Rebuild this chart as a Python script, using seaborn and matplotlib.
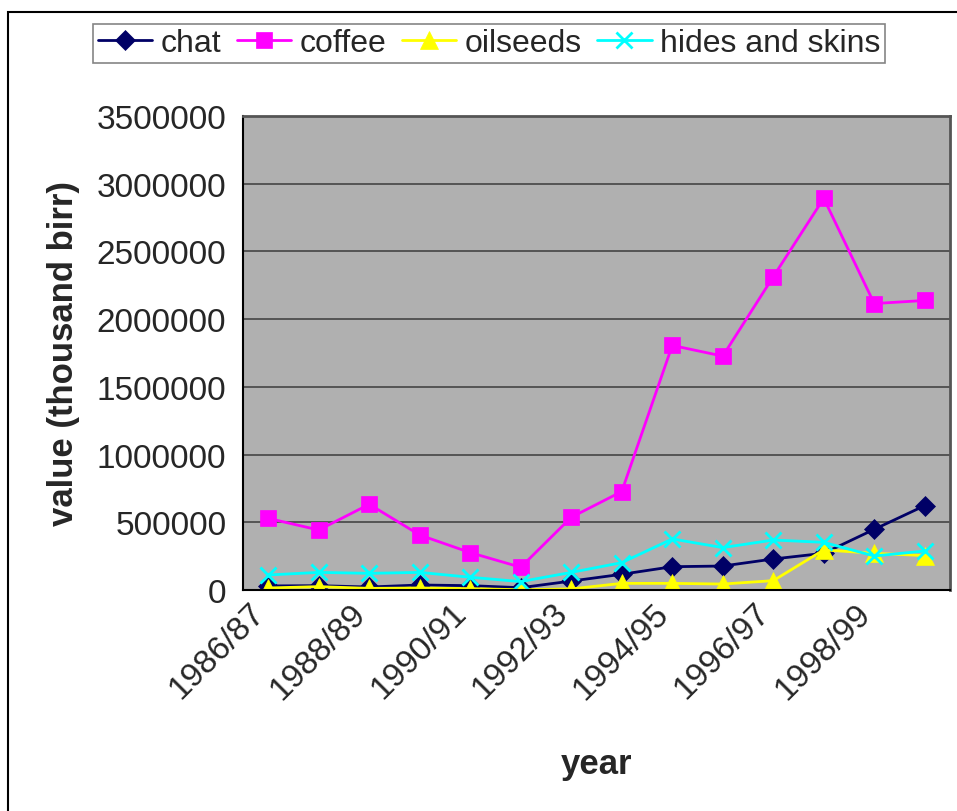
import numpy as np
import pandas as pd
import seaborn as sns
import matplotlib.pyplot as plt
from matplotlib.patches import Rectangle
from matplotlib.transforms import ScaledTranslation

# values (thousand birr)
years = ['1986/87', '1987/88', '1988/89', '1989/90', '1990/91', '1991/92', '1992/93',
         '1993/94', '1994/95', '1995/96', '1996/97', '1997/98', '1998/99', '1999/00']
chat = [30000, 32000, 22000, 37000, 32000, 17000, 66000,
        116000, 172000, 177000, 229000, 271000, 448000, 623000]
coffee = [529000, 443000, 633000, 406000, 276000, 168000, 537000,
          727000, 1806000, 1727000, 2313000, 2892000, 2115000, 2138000]
oilseeds = [15000, 25000, 12000, 15000, 10000, 2000, 8000,
            49000, 49000, 44000, 69000, 296000, 271000, 254000]
hides = [111000, 130000, 123000, 130000, 94000, 62000, 130000,
         202000, 377000, 313000, 369000, 352000, 251000, 288000]

series_names = ['chat', 'coffee', 'oilseeds', 'hides and skins']
series_vals = [chat, coffee, oilseeds, hides]
colors = ['#000066', '#ff00ff', '#ffff00', '#00ffff']
markers = ['D', 's', '^', 'x']
msizes = [10, 12, 13, 12]

sns.set_style('white')
plt.rcParams['font.family'] = ['Liberation Sans', 'DejaVu Sans']

fig = plt.figure(figsize=(9.57, 8.12), dpi=100)
ax = fig.add_axes([243 / 957, 1 - 591 / 812, (950 - 243) / 957, (591 - 117) / 812])
ax.set_facecolor('#b0b0b0')

x = np.arange(len(years))
for name, vals, c, m, ms in zip(series_names, series_vals, colors, markers, msizes):
    sns.lineplot(x=x, y=vals, ax=ax, color=c, marker=m, markersize=ms,
                 markeredgecolor=c, markeredgewidth=2 if m == 'x' else 0.5,
                 linewidth=2, label=name)

ax.set_xlim(-0.5, len(years) - 0.5)
ax.set_ylim(0, 3500000)
ax.set_yticks(np.arange(0, 3500001, 500000))
ax.set_yticklabels([f'{v:d}' for v in range(0, 3500001, 500000)], fontsize=24)
ax.yaxis.grid(True, color='#444444', linewidth=1.2)
ax.set_axisbelow(True)

# category labels every other year, tick marks on category boundaries
ax.set_xticks(x[::2])
ax.set_xticklabels(years[::2], rotation=45, ha='right', va='center',
                   rotation_mode='anchor', fontsize=24)
ax.set_xticks(np.arange(-0.5, len(years), 1), minor=True)
ax.tick_params(axis='x', which='major', length=0, pad=13)
ax.tick_params(axis='x', which='minor', length=6, width=1.2, color='#333333', direction='out')
ax.tick_params(axis='y', length=6, width=1.2, color='#333333', direction='out', pad=6)
offset = ScaledTranslation(-8 / 100, 0, fig.dpi_scale_trans)
for lab in ax.get_xticklabels():
    lab.set_transform(lab.get_transform() + offset)

for side in ['top', 'right']:
    ax.spines[side].set_color('#555555')
    ax.spines[side].set_linewidth(2)
for side in ['left', 'bottom']:
    ax.spines[side].set_color('black')
    ax.spines[side].set_linewidth(1.5)

ax.set_xlabel('year', fontsize=25, fontweight='bold', labelpad=0)
ax.set_ylabel('value (thousand birr)', fontsize=25, fontweight='bold')
ax.xaxis.set_label_coords(0.5, -(748 - 591) / 474, transform=ax.transAxes)
ax.yaxis.set_label_coords(-(243 - 80) / 707, 0.5)

ax.get_legend().remove()
handles, labels = ax.get_legend_handles_labels()
leg = fig.legend(handles, labels, loc='center', bbox_to_anchor=(489 / 957, 1 - 44.5 / 812),
                 ncol=4, fontsize=23, frameon=True, fancybox=False, edgecolor='#666666',
                 handlelength=1.7, handletextpad=0.25, columnspacing=0.5, borderpad=0.15,
                 borderaxespad=0)
leg.get_frame().set_linewidth(1.2)

# outer chart border
fig.patches.append(Rectangle((8 / 957, -0.05), 1.1, 1 - 13 / 812 + 0.05,
                             transform=fig.transFigure, fill=False,
                             edgecolor='black', linewidth=1.5))

fig.savefig('out.png', dpi=100)
